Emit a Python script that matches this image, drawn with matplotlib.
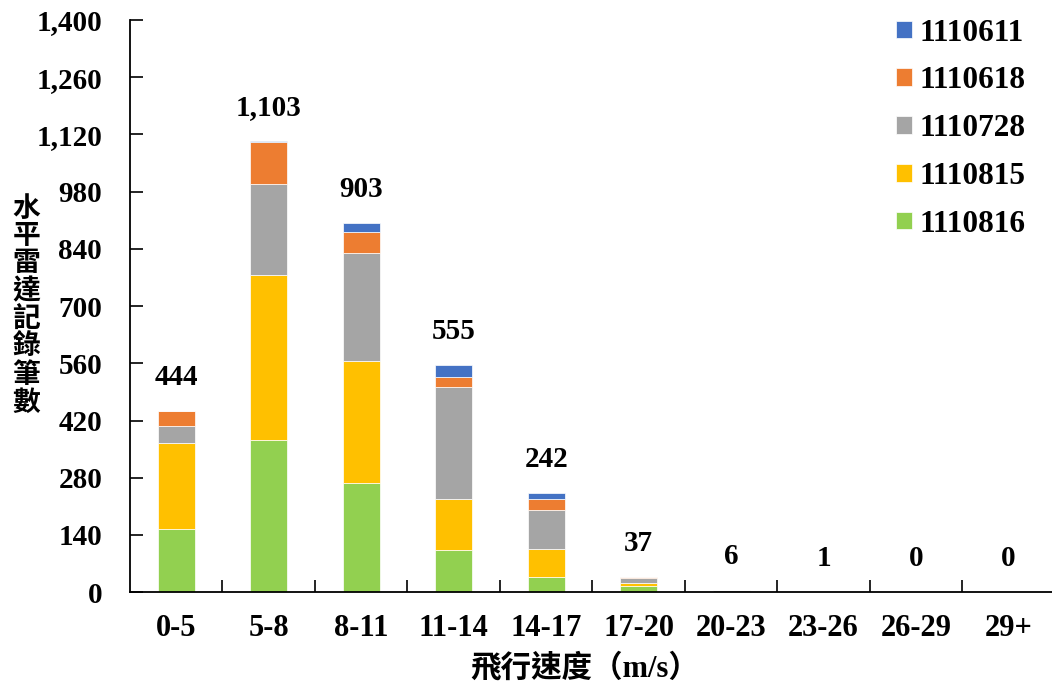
import numpy as np
import matplotlib
matplotlib.use("Agg")
import matplotlib.pyplot as plt

categories = ['0-5', '5-8', '8-11', '11-14', '14-17', '17-20', '20-23', '23-26', '26-29', '29+']

# stacked from bottom to top
s_1110816 = [154, 372, 268, 102, 36, 15, 0, 0, 0, 0]
s_1110815 = [212, 404, 297, 126, 70, 8, 0, 0, 0, 0]
s_1110728 = [40, 222, 264, 274, 96, 12, 5, 0, 0, 0]
s_1110618 = [38, 104, 52, 24, 26, 2, 0, 0, 0, 0]
s_1110611 = [0, 1, 22, 29, 14, 0, 1, 1, 0, 0]
totals = [444, 1103, 903, 555, 242, 37, 6, 1, 0, 0]

series = [
    ('1110816', s_1110816, '#92D050'),
    ('1110815', s_1110815, '#FFC000'),
    ('1110728', s_1110728, '#A5A5A5'),
    ('1110618', s_1110618, '#ED7D31'),
    ('1110611', s_1110611, '#4472C4'),
]

plt.rcParams['font.family'] = ['Liberation Serif', 'Noto Sans CJK TC']
plt.rcParams['font.weight'] = 'bold'

fig = plt.figure(figsize=(10.52, 6.87), dpi=100)
ax = fig.add_axes([0.1236, 0.138, 0.879, 0.833])

x = np.arange(len(categories))
bottom = np.zeros(len(categories))
handles = {}
for name, vals, color in series:
    b = ax.bar(x, vals, 0.4, bottom=bottom, color=color, edgecolor='white', linewidth=0.5, label=name)
    handles[name] = b
    bottom += np.array(vals)

for xi, t in zip(x, totals):
    ax.annotate(f'{t:,}', (xi, t), xytext=(0, 24), textcoords='offset points',
                ha='center', va='center', fontsize=21, fontweight='bold')

ax.set_xlim(-0.5, len(categories) - 0.5)
ax.set_ylim(0, 1400)
ax.set_yticks(np.arange(0, 1401, 140))
ax.set_yticklabels([f'{v:,}' for v in range(0, 1401, 140)])
ax.set_xticks(x)
ax.set_xticklabels(categories)
ax.set_xticks(np.arange(0.5, len(categories), 1), minor=True)

ax.tick_params(axis='y', direction='in', length=9, width=1.2, pad=20, labelsize=21)
ax.tick_params(axis='x', which='major', length=0, pad=16, labelsize=22)
ax.tick_params(axis='x', which='minor', direction='in', length=9, width=1.2)
for lab in ax.get_xticklabels() + ax.get_yticklabels():
    lab.set_fontweight('bold')

ax.spines['top'].set_visible(False)
ax.spines['right'].set_visible(False)
ax.spines['left'].set_linewidth(1.3)
ax.spines['bottom'].set_linewidth(1.3)

order = ['1110611', '1110618', '1110728', '1110815', '1110816']
ax.legend([handles[n] for n in order], order, loc='upper left',
          bbox_to_anchor=(0.825, 1.014), bbox_transform=fig.transFigure,
          frameon=False, prop={'size': 22.5, 'weight': 'bold'},
          handlelength=0.5, handleheight=0.5, handletextpad=0.25, labelspacing=0.6)

fig.text(0.556, 0.027, '飛行速度（m/s）', ha='center', va='center', fontsize=22, fontweight='bold')
fig.text(0.025, 0.553, '\n'.join('水平雷達記錄筆數'), ha='center', va='center',
         fontsize=20, fontweight='bold', linespacing=1.1)

fig.savefig('out.png', dpi=100)
